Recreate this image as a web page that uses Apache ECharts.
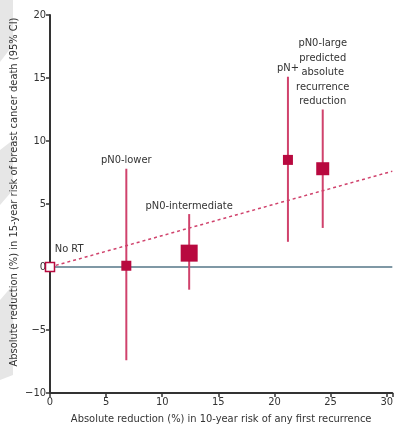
<!DOCTYPE html>
<html><head><meta charset="utf-8">
<script src="https://cdn.jsdelivr.net/npm/echarts@6/dist/echarts.min.js"></script>
<style>html,body{margin:0;padding:0;background:#fff}#c{width:396px;height:430px}</style>
</head><body><div id="c"></div>
<script>
const groups = ['No RT', 'pN0-lower', 'pN0-intermediate', 'pN+', 'pN0-large\npredicted\nabsolute\nrecurrence\nreduction'];
const recurrenceReduction = [0, 6.8, 12.4, 21.2, 24.3];
const deathReduction = [0, 0.1, 1.1, 8.5, 7.8];
const ciLow = [null, -7.4, -1.8, 2.0, 3.1];
const ciHigh = [null, 7.8, 4.2, 15.1, 12.5];
const squareSize = [9, 10, 17, 10, 13];
const trendLine = [[0, 0], [30.5, 7.6]];
const xTicks = [0, 5, 10, 15, 20, 25, 30];
const yTicks = [-10, -5, 0, 5, 10, 15, 20];

const FONT = '"DejaVu Sans Condensed","Liberation Sans Narrow","Open Sans",sans-serif';
const RED = '#b8093f', PINK = '#d0426c', TXT = '#333';
const chart = echarts.init(document.getElementById('c'));

const ciData = [], ptData = [], lblData = [];
for (let i = 0; i < groups.length; i++) {
  if (ciLow[i] !== null) ciData.push([recurrenceReduction[i], ciLow[i], ciHigh[i]]);
  ptData.push({value: [recurrenceReduction[i], deathReduction[i]], symbolSize: squareSize[i],
    itemStyle: i === 0 ? {color: '#fff', borderColor: RED, borderWidth: 1.5, opacity: 1} : {color: RED, opacity: 1}});
  if (i > 0) lblData.push({value: [recurrenceReduction[i], ciHigh[i]], name: groups[i]});
}

chart.setOption({
  animation: false,
  grid: {left: 50, right: 0, top: 15, bottom: 34},
  xAxis: {type: 'value', min: 0, max: 30.5, interval: 5,
    axisLine: {onZero: false, lineStyle: {color: '#333', width: 2}},
    axisTick: {show: true, length: 4, lineStyle: {color: '#333', width: 1.5}},
    axisLabel: {color: TXT, fontSize: 11, fontFamily: FONT, margin: 4,
      formatter: v => xTicks.includes(v) ? String(v) : ''},
    splitLine: {show: false},
    name: 'Absolute reduction (%) in 10-year risk of any first recurrence',
    nameLocation: 'middle', nameGap: 21,
    nameTextStyle: {color: TXT, fontSize: 11, fontFamily: FONT}},
  yAxis: {type: 'value', min: -10, max: 20, interval: 5,
    axisLine: {show: true, onZero: false, lineStyle: {color: '#333', width: 2}},
    axisTick: {show: true, length: 4, lineStyle: {color: '#333', width: 1.5}},
    axisLabel: {color: TXT, fontSize: 11, fontFamily: FONT, margin: 4,
      formatter: v => yTicks.includes(v) ? (v < 0 ? '\u2212' + Math.abs(v) : String(v)) : ''},
    splitLine: {show: false}},
  graphic: [
    {type: 'polygon', silent: true, z: -10, shape: {points: [[0,0],[13,0],[13,45],[0,62]]}, style: {fill: '#e6e6e6'}},
    {type: 'polygon', silent: true, z: -10, shape: {points: [[0,150],[13,140],[13,190],[0,205]]}, style: {fill: '#e6e6e6'}},
    {type: 'polygon', silent: true, z: -10, shape: {points: [[0,300],[13,285],[13,375],[0,380]]}, style: {fill: '#e6e6e6'}},
    {type: 'text', x: 14, y: 192, rotation: Math.PI / 2,
      style: {text: 'Absolute reduction (%) in 15-year risk of breast cancer death (95% CI)',
        fill: TXT, font: '11px ' + FONT, textAlign: 'center', textVerticalAlign: 'middle'}}
  ],
  series: [
    {type: 'line', data: [[0, 0], [30.5, 0]], symbol: 'none', z: 1,
      lineStyle: {color: '#7f98a5', width: 2}, silent: true},
    {type: 'line', data: trendLine, symbol: 'none', z: 2,
      lineStyle: {color: PINK, width: 1.5, type: [3, 3]}, silent: true},
    {type: 'custom', z: 3, data: ciData, renderItem: (p, api) => {
      const a = api.coord([api.value(0), api.value(1)]);
      const b = api.coord([api.value(0), api.value(2)]);
      return {type: 'line', shape: {x1: a[0], y1: a[1], x2: b[0], y2: b[1]},
        style: {stroke: PINK, lineWidth: 2}};
    }},
    {type: 'scatter', z: 5, symbol: 'rect', data: ptData,
      label: {show: true, formatter: p => p.dataIndex === 0 ? 'No RT' : '',
        position: [10, -18], color: TXT, fontSize: 11, fontFamily: FONT}},
    {type: 'scatter', z: 4, symbolSize: 0, data: lblData, itemStyle: {opacity: 1},
      label: {show: true, formatter: '{b}', position: 'top', distance: 1,
        color: TXT, fontSize: 11, fontFamily: FONT, lineHeight: 14.5, align: 'center'}}
  ]
});
</script></body></html>
